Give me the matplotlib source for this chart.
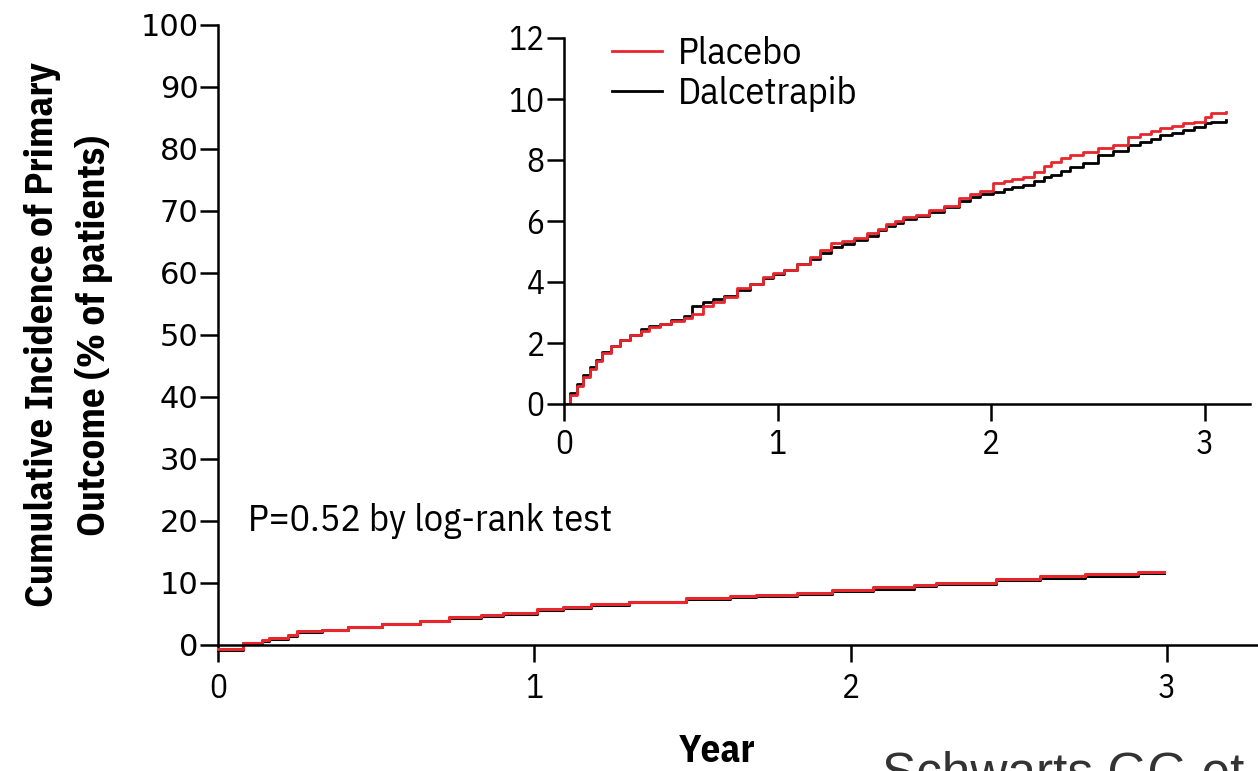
import numpy as np
import matplotlib.pyplot as plt

# inset curves (years, cumulative incidence %)
inset_years = [0, 0.03, 0.06, 0.09, 0.12, 0.15, 0.18, 0.22, 0.26, 0.31,
               0.36, 0.40, 0.45, 0.50, 0.56, 0.60, 0.65, 0.70, 0.75, 0.81,
               0.87, 0.93, 0.98, 1.03, 1.09, 1.15, 1.20, 1.25, 1.30, 1.36,
               1.42, 1.47, 1.51, 1.55, 1.59, 1.65, 1.71, 1.78, 1.85, 1.90,
               1.95, 2.01, 2.06, 2.10, 2.15, 2.20, 2.25, 2.28, 2.33, 2.37,
               2.43, 2.50, 2.57, 2.64, 2.70, 2.75, 2.79, 2.85, 2.90, 2.95,
               3.00, 3.03, 3.10]
inset_placebo = [0, 0.3, 0.6, 0.9, 1.15, 1.4, 1.66, 1.9, 2.1, 2.26,
                 2.4, 2.53, 2.62, 2.72, 2.81, 2.95, 3.2, 3.35, 3.5, 3.79,
                 3.95, 4.17, 4.28, 4.39, 4.6, 4.83, 5.05, 5.27, 5.35, 5.45,
                 5.6, 5.75, 5.9, 6.0, 6.14, 6.2, 6.36, 6.5, 6.74, 6.9,
                 7.0, 7.23, 7.3, 7.38, 7.45, 7.6, 7.8, 7.95, 8.05, 8.16,
                 8.25, 8.38, 8.5, 8.77, 8.85, 8.95, 9.04, 9.12, 9.2, 9.26,
                 9.4, 9.53, 9.58]
inset_dalcetrapib = [0, 0.35, 0.65, 0.95, 1.2, 1.45, 1.7, 1.9, 2.1, 2.25,
                     2.45, 2.55, 2.62, 2.75, 2.9, 3.2, 3.35, 3.45, 3.55, 3.75,
                     3.95, 4.12, 4.25, 4.39, 4.6, 4.75, 4.95, 5.15, 5.25, 5.38,
                     5.5, 5.7, 5.85, 5.95, 6.05, 6.15, 6.3, 6.45, 6.65, 6.8,
                     6.9, 6.96, 7.05, 7.12, 7.18, 7.3, 7.45, 7.51, 7.65, 7.78,
                     7.9, 8.16, 8.3, 8.5, 8.6, 8.7, 8.82, 8.9, 9.0, 9.09,
                     9.2, 9.26, 9.31]

# full-scale curves
main_years = [0, 0.08, 0.14, 0.16, 0.22, 0.25, 0.33, 0.41, 0.52, 0.64,
              0.73, 0.83, 0.90, 1.01, 1.09, 1.18, 1.30, 1.48, 1.62, 1.70,
              1.83, 1.94, 2.07, 2.20, 2.27, 2.46, 2.60, 2.74, 2.91, 2.99]
main_placebo = [-0.7, 0.4, 0.8, 1.1, 1.6, 2.2, 2.5, 2.95, 3.45, 3.9,
                4.5, 4.8, 5.2, 5.75, 6.2, 6.6, 7.0, 7.6, 7.9, 8.05,
                8.4, 8.85, 9.3, 9.7, 10.05, 10.6, 11.1, 11.45, 11.8, 11.8]
main_dalcetrapib = [-0.8, 0.3, 0.7, 1.0, 1.5, 2.1, 2.4, 2.85, 3.35, 3.85,
                    4.35, 4.7, 5.05, 5.6, 6.0, 6.45, 6.9, 7.45, 7.75, 7.95,
                    8.3, 8.65, 9.1, 9.5, 9.9, 10.45, 10.85, 11.2, 11.55, 11.55]

main_yticks = list(range(0, 101, 10))
inset_yticks = [0, 2, 4, 6, 8, 10, 12]
xticks = [0, 1, 2, 3]

RED = '#e8262d'
plt.rcParams['font.family'] = ['IBM Plex Sans Condensed', 'DejaVu Sans']

fig = plt.figure(figsize=(12.58, 7.71), dpi=100)

# main axes
ax = fig.add_axes([218/1258, 1-645/771, 1040/1258, 620/771])
ax.plot(main_years, main_dalcetrapib, drawstyle='steps-post', color='black',
        lw=2.2, clip_on=False)
ax.plot(main_years, main_placebo, drawstyle='steps-post', color=RED,
        lw=2.2, clip_on=False)
ax.set_xlim(0, 1040/316.3)
ax.set_ylim(0, 100)
ax.spines['top'].set_visible(False)
ax.spines['right'].set_visible(False)
for s in ['left', 'bottom']:
    ax.spines[s].set_linewidth(1.8)
ax.set_xticks(xticks)
ax.set_yticks(main_yticks)
ax.tick_params(axis='x', direction='out', length=12, width=1.8, pad=8,
               labelsize=24)
ax.tick_params(axis='y', direction='out', length=13, width=1.8, pad=1,
               labelsize=22)
for lab in ax.get_yticklabels():
    lab.set_fontfamily('DejaVu Sans')
ax.set_ylabel('Cumulative Incidence of Primary\nOutcome (% of patients)',
              fontsize=28, fontweight='bold', linespacing=1.45, labelpad=20)
ax.set_xlabel('Year', fontsize=28, fontweight='bold', labelpad=20)
ax.xaxis.label.set_x(0.48)
ax.text(0.095, 20, 'P=0.52 by log-rank test', fontsize=27.5, va='center')

# inset axes
ins = fig.add_axes([564/1258, 1-404/771, 686/1258, 366/771])
ins.plot(inset_years, inset_dalcetrapib, drawstyle='steps-post',
         color='black', lw=2.0, label='Dalcetrapib')
ins.plot(inset_years, inset_placebo, drawstyle='steps-post',
         color=RED, lw=2.0, label='Placebo')
ins.set_xlim(0, 686/213.5)
ins.set_ylim(0, 12)
ins.spines['top'].set_visible(False)
ins.spines['right'].set_visible(False)
for s in ['left', 'bottom']:
    ins.spines[s].set_linewidth(1.8)
ins.set_xticks(xticks)
ins.set_yticks(inset_yticks)
ins.tick_params(axis='x', direction='out', length=12, width=1.8, pad=6,
                labelsize=24)
ins.tick_params(axis='y', direction='out', length=12, width=1.8, pad=2,
                labelsize=24)
h, l = ins.get_legend_handles_labels()
ins.legend(h[::-1], l[::-1], loc='upper left', bbox_to_anchor=(0.07, 1.005),
           frameon=False, fontsize=27.5, handlelength=1.3, handletextpad=0.42,
           labelspacing=0.1, borderpad=0, borderaxespad=0)

fig.text(882/1258, 1-789/771, 'Schwarts GG et al.', fontsize=37,
         color='#333333', family=['Liberation Sans', 'DejaVu Sans'],
         va='baseline')

fig.savefig('out.png', dpi=100)
